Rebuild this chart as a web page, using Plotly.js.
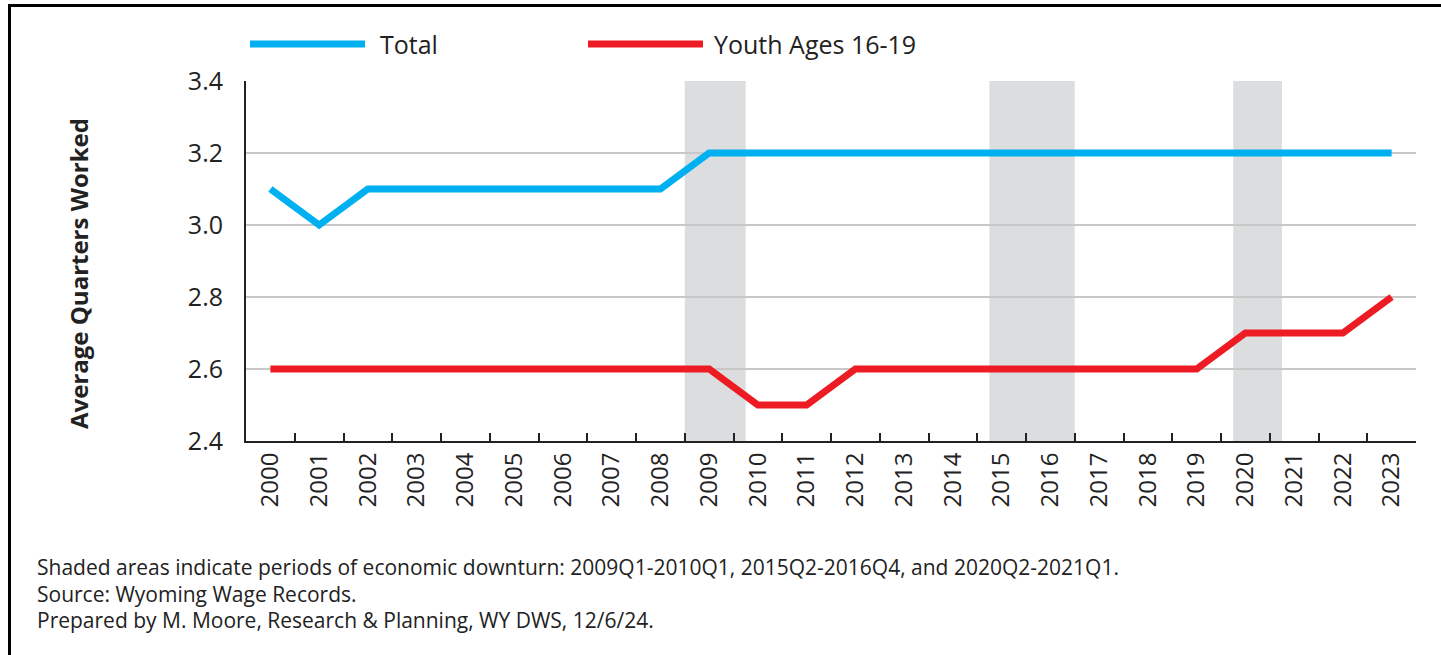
<!DOCTYPE html>
<html>
<head>
<meta charset="utf-8">
<script src="https://cdn.plot.ly/plotly-3.0.1.min.js"></script>
<style>
html,body{margin:0;padding:0;background:#fff;}
#wrap{position:relative;width:1441px;height:655px;overflow:hidden;}
#chart{position:absolute;left:0;top:0;width:1441px;height:655px;}
#frame{position:absolute;left:8px;top:4px;width:1440px;height:660px;border-top:3px solid #000;border-left:3px solid #000;pointer-events:none;}
</style>
</head>
<body>
<div id="wrap"><div id="chart"></div><div id="frame"></div></div>
<script>
const years = ["2000","2001","2002","2003","2004","2005","2006","2007","2008","2009","2010","2011","2012","2013","2014","2015","2016","2017","2018","2019","2020","2021","2022","2023"];
const total = [3.1,3.0,3.1,3.1,3.1,3.1,3.1,3.1,3.1,3.2,3.2,3.2,3.2,3.2,3.2,3.2,3.2,3.2,3.2,3.2,3.2,3.2,3.2,3.2];
const youth = [2.6,2.6,2.6,2.6,2.6,2.6,2.6,2.6,2.6,2.6,2.5,2.5,2.6,2.6,2.6,2.6,2.6,2.6,2.6,2.6,2.7,2.7,2.7,2.8];
// downturn periods in category-index units (year index -0.5 = start of year, quarters = 0.25)
const downturns = [[8.5, 9.75],[14.75, 16.5],[19.75, 20.75]];
const seriesNames = ["Total","Youth Ages 16-19"];
const colors = ["#00b0f0","#ed1c24"];
const notes = [
  "Shaded areas indicate periods of economic downturn: 2009Q1-2010Q1, 2015Q2-2016Q4, and 2020Q2-2021Q1.",
  "Source: Wyoming Wage Records.",
  "Prepared by M. Moore, Research & Planning, WY DWS, 12/6/24."
];

const W = 1441, H = 655, L = 246, R = 25, T = 81, B = 214;
const pw = W - L - R, ph = H - T - B;
const px = v => (v - L) / pw;
const py = v => (H - B - v) / ph;

const traces = [
  {x: years, y: total, name: seriesNames[0], type: 'scatter', mode: 'lines', line: {color: colors[0], width: 7}},
  {x: years, y: youth, name: seriesNames[1], type: 'scatter', mode: 'lines', line: {color: colors[1], width: 7}}
];

const shapes = downturns.map(d => ({type:'rect', xref:'x', yref:'y', x0:d[0], x1:d[1], y0:2.4, y1:3.4, fillcolor:'#dcdddf', line:{width:0}, layer:'below'}));
// manual legend
const legY = py(44);
shapes.push({type:'line', xref:'paper', yref:'paper', x0:px(250), x1:px(365), y0:legY, y1:legY, line:{color:colors[0], width:7}});
shapes.push({type:'line', xref:'paper', yref:'paper', x0:px(588), x1:px(703), y0:legY, y1:legY, line:{color:colors[1], width:7}});

const annotations = [
  {xref:'paper', yref:'paper', x:px(378), y:legY, xanchor:'left', yanchor:'middle', text:seriesNames[0], showarrow:false, font:{family:'Open Sans, sans-serif', size:25, color:'#222'}},
  {xref:'paper', yref:'paper', x:px(712), y:legY, xanchor:'left', yanchor:'middle', text:seriesNames[1], showarrow:false, font:{family:'Open Sans, sans-serif', size:25, color:'#222'}},
  {xref:'paper', yref:'paper', x:px(78), y:py(274), xanchor:'center', yanchor:'middle', textangle:-90, text:'<b>Average Quarters Worked</b>', showarrow:false, font:{family:'Open Sans, sans-serif', size:24, color:'#222'}}
];
notes.forEach((t, i) => annotations.push({xref:'paper', yref:'paper', x:px(35), y:py(567 + i*26.5), xanchor:'left', yanchor:'middle', text:t, showarrow:false, font:{family:'Open Sans, sans-serif', size:21, color:'#222'}}));

const layout = {
  width: W, height: H,
  margin: {l: L, r: R, t: T, b: B, pad: 0},
  paper_bgcolor: '#fff', plot_bgcolor: 'rgba(0,0,0,0)',
  showlegend: false,
  font: {family: 'Open Sans, sans-serif', color: '#222'},
  xaxis: {
    type: 'category', range: [-0.5, 23.5], tickson: 'boundaries', ticks: 'inside', ticklen: 8, tickwidth: 2, tickcolor: '#222',
    showline: true, linecolor: '#222', linewidth: 2, showgrid: false, tickangle: -90,
    tickfont: {size: 24, color: '#222'}, fixedrange: true
  },
  yaxis: {
    range: [2.4, 3.4], dtick: 0.2, tick0: 2.4, tickformat: '.1f', showline: true, linecolor: '#222', linewidth: 2,
    gridcolor: '#c8c8c8', gridwidth: 2, ticks: '', ticklabelstandoff: 16, tickfont: {size: 25, color: '#222'}, zeroline: false, fixedrange: true
  },
  shapes: shapes,
  annotations: annotations
};

Plotly.newPlot('chart', traces, layout, {staticPlot: true, displayModeBar: false});
</script>
</body>
</html>
